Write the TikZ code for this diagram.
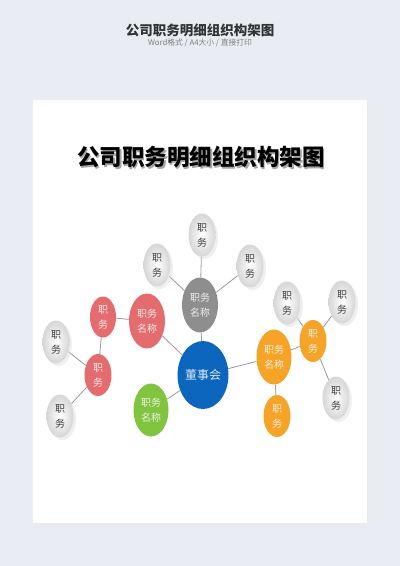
\documentclass[tikz,border=0pt]{standalone}
\usepackage{fontspec}
\setmainfont{Noto Sans CJK SC}
\usetikzlibrary{shapes.geometric,shadows,backgrounds}
\definecolor{pagebg}{RGB}{233,236,242}
\definecolor{hubblue}{RGB}{12,102,190}
\definecolor{hubgray}{RGB}{142,142,142}
\definecolor{hubred}{RGB}{228,108,110}
\definecolor{hubgreen}{RGB}{128,196,64}
\definecolor{huborange}{RGB}{245,164,40}
\begin{document}
\begin{tikzpicture}[x=1pt, y=-1pt,
		ball/.style={ellipse, inner sep=0pt, align=center, font=\fontsize{10}{15}\selectfont},
		leaf/.style={ball, minimum width=27pt, minimum height=43pt, inner color=white, outer color=black!16, text=black!75,
			drop shadow={shadow xshift=2.5pt, shadow yshift=-2.5pt, fill=black!12}},
		hub/.style={ball, minimum width=36pt, minimum height=55pt, fill=#1, text=white!85!#1},
		twig/.style={hub=#1, minimum width=27pt, minimum height=42pt},
		link/.style={draw=black!40, line width=0.8pt}]
		
		\useasboundingbox (0, 0) rectangle (400, 566);
		\begin{pgfonlayer}{background}
			\fill [pagebg] (0, 0) rectangle (400, 566);
			\fill [black!8] (34, 101) rectangle (369, 525);
			\fill [white] (33, 100) rectangle (367, 523);
		\end{pgfonlayer}
		
		\node [font=\bfseries\fontsize{13.5}{16}\selectfont, text=black!80] (head) at (200, 30) {公司职务明细组织构架图};
		\node [font=\fontsize{7.8}{9}\selectfont, text=black!50] (subhead) at (200, 43) {Word格式\ /\ A4大小\ /\ 直接打印};
		\node [font=\bfseries\fontsize{22.5}{26}\selectfont, text=black!35] (titleshadow) at (202.5, 158.5) {公司职务明细组织构架图};
		\node [font=\bfseries\fontsize{22.5}{26}\selectfont] (title) at (201, 157) {公司职务明细组织构架图};
		
		\node [hub=hubblue, minimum width=50pt, minimum height=68pt, font=\fontsize{12}{14}\selectfont] (board) at (203, 375) {董事会};
		\node [hub=hubgray] (grayhub) at (200, 305) {职务\\名称};
		\node [hub=hubred] (redhub) at (147, 321) {职务\\名称};
		\node [hub=hubgreen, minimum width=35pt, minimum height=53pt] (greenhub) at (151, 410) {职务\\名称};
		\node [hub=huborange, minimum width=35pt] (orangehub) at (274, 357) {职务\\名称};
		
		\node [twig=hubred, minimum width=26pt, minimum height=41pt] (redA) at (103, 317) {职\\务};
		\node [twig=hubred] (redB) at (98, 375) {职\\务};
		\node [twig=huborange] (orangeA) at (313, 341) {职\\务};
		\node [twig=huborange] (orangeB) at (277, 416) {职\\务};
		
		\node [leaf] (leafTop) at (202, 235) {职\\务};
		\node [leaf] (leafLeft) at (157, 265) {职\\务};
		\node [leaf] (leafRight) at (250, 266) {职\\务};
		\node [leaf] (leafUp) at (56, 342) {职\\务};
		\node [leaf] (leafDown) at (60, 416) {职\\务};
		\node [leaf] (leafA) at (287, 303) {职\\务};
		\node [leaf] (leafB) at (342, 302) {职\\务};
		\node [leaf] (leafC) at (336, 398) {职\\务};
		
		\begin{pgfonlayer}{background}
			\draw [link] (board) -- (grayhub);
			\draw [link] (board) -- (redhub);
			\draw [link] (board) -- (greenhub);
			\draw [link] (board) -- (orangehub);
			
			\draw [link] (grayhub) -- (leafTop);
			\draw [link] (grayhub) -- (leafLeft);
			\draw [link] (grayhub) -- (leafRight);
			
			\draw [link] (redhub) -- (redA);
			\draw [link] (redA) -- (redB);
			\draw [link] (redB) -- (leafUp);
			\draw [link] (redB) -- (leafDown);
			
			\draw [link] (orangehub) -- (orangeA);
			\draw [link] (orangehub) -- (orangeB);
			\draw [link] (orangeA) -- (leafA);
			\draw [link] (orangeA) -- (leafB);
			\draw [link] (orangeA) -- (leafC);
		\end{pgfonlayer}
		
	\end{tikzpicture}
\end{document}
